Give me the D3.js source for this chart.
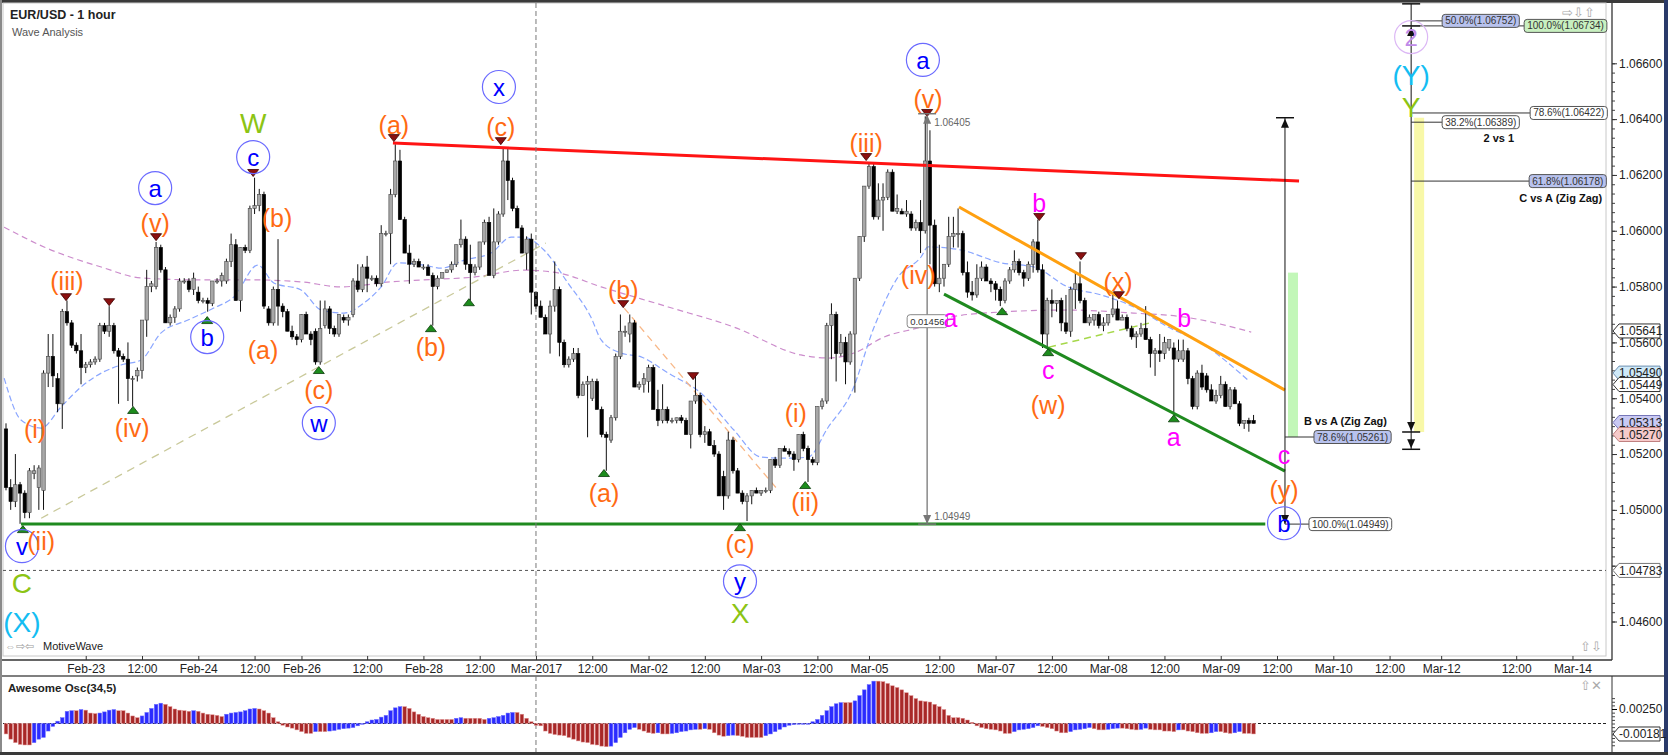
<!DOCTYPE html>
<html>
<head>
<meta charset="utf-8">
<script src="https://cdn.jsdelivr.net/npm/d3@7"></script>
<style>
html, body { margin: 0; padding: 0; background: #fff; }
svg { display: block; font-family: "Liberation Sans", Arial, sans-serif; }
</style>
</head>
<body>
<div id="chart"></div>
<script>
//=====================================================
// data (prices in pips above 1.0000, e.g. 532 -> 1.0532)

var title = "EUR/USD - 1 hour";
var subtitle = "Wave Analysis";

// hourly candles [open, high, low, close], bar 0 = Feb-22 late
var candles = [
[529,531,507,508],[508,511,500,503],[503,520,501,509],[509,510,495,506],[506,507,497,499],
[499,515,497,514],[513,516,511,514],[508,516,500,515],[507,550,500,549],[549,563,544,555],
[555,563,544,548],[547,549,535,538],[538,572,529,571],[571,575,566,567],[567,568,558,559],
[559,560,556,557],[557,563,545,551],[551,553,549,552],[552,554,551,553],[553,555,552,554],
[554,567,553,566],[566,567,563,564],[564,573,562,566],[566,567,556,557],[557,558,538,555],
[555,556,553,554],[554,560,539,547],[547,548,537,547],[548,551,546,550],[550,568,547,568],
[568,586,562,580],[580,582,578,581],[580,596,579,594],[594,595,585,586],[586,587,567,567],
[567,570,566,569],[569,573,567,572],[572,583,571,582],[582,583,581,582],[582,583,578,579],
[579,585,577,583],[578,580,574,575],[575,576,574,575],[575,576,571,574],[574,582,573,582],
[582,583,581,582],[582,585,580,584],[582,590,581,589],[589,599,587,595],[595,597,575,575],
[575,594,571,594],[594,595,592,593],[593,609,592,608],[608,619,606,609],[609,615,607,613],
[613,614,572,573],[572,573,566,567],[567,580,566,579],[579,597,566,573],[573,574,569,571],
[571,572,564,564],[564,566,561,562],[562,563,559,561],[561,570,560,570],[570,571,563,563],
[563,564,559,561],[564,565,552,553],[553,575,552,565],[566,575,565,572],[572,573,563,565],
[565,566,562,563],[563,570,562,570],[569,570,567,568],[568,570,566,569],[570,583,569,582],
[582,588,578,579],[579,588,578,587],[587,591,578,583],[583,584,582,583],[583,584,580,581],
[581,602,580,599],[599,600,598,599],[599,615,588,613],[613,631,612,625],[625,629,604,604],
[604,605,592,592],[592,595,581,588],[588,590,587,589],[589,590,587,587],[587,588,586,587],
[587,588,584,584],[584,585,566,580],[580,584,579,583],[583,585,583,585],[585,586,585,586],
[586,589,585,588],[588,595,587,595],[595,604,594,597],[597,598,586,588],[588,595,575,585],
[585,588,584,587],[587,596,586,596],[596,604,595,603],[603,605,584,584],[584,608,583,596],
[596,607,595,606],[606,630,605,625],[625,630,611,618],[618,619,607,608],[608,609,601,601],
[601,602,592,592],[592,598,586,597],[597,599,570,578],[578,578,572,573],[573,575,569,569],
[569,570,563,563],[563,575,556,573],[573,589,571,579],[579,580,555,560],[560,561,551,552],
[552,555,551,554],[554,558,553,556],[556,558,540,541],[541,546,541,545],[545,548,526,546],
[540,547,539,546],[546,547,536,536],[536,537,526,527],[527,528,514,526],[525,534,524,533],
[533,556,532,555],[555,570,554,564],[564,566,562,564],[563,570,560,567],[567,568,544,544],
[544,546,543,545],[545,549,542,547],[546,552,542,551],[551,552,536,536],[536,543,530,532],
[532,545,531,536],[536,537,531,532],[532,533,531,532],[532,533,531,533],[533,534,531,532],
[532,533,527,527],[527,539,522,539],[539,548,538,541],[541,542,526,527],[527,530,524,528],
[528,529,523,523],[523,525,519,520],[520,521,505,505],[512,514,500,505],[505,528,504,525],
[525,526,513,514],[514,515,506,506],[506,507,502,503],[503,506,496,505],[505,507,502,507],
[507,508,506,506],[506,507,505,507],[507,508,506,507],[507,518,506,518],[518,519,515,516],
[516,522,515,522],[522,523,521,521],[521,522,519,520],[520,521,514,518],[518,527,517,527],
[527,528,521,522],[522,523,510,518],[518,519,516,517],[517,537,516,537],[537,540,536,539],
[539,567,538,566],[566,574,554,570],[570,571,546,556],[556,563,555,560],[560,562,545,553],
[553,564,552,563],[563,583,542,583],[583,598,582,598],[598,616,596,616],[616,624,615,623],
[623,624,604,605],[605,617,604,611],[611,617,600,612],[612,622,611,621],[621,622,607,607],
[607,613,606,608],[607,608,606,606],[606,611,605,607],[606,607,600,601],[601,604,600,603],
[603,611,592,600],[600,641,599,625],[625,636,588,602],[602,604,580,581],[581,595,578,583],
[583,588,580,588],[588,605,587,598],[598,605,594,599],[599,608,594,599],[599,600,584,585],
[585,589,576,578],[578,582,575,577],[577,588,576,583],[583,589,582,587],[587,588,582,582],
[582,583,578,581],[581,582,575,579],[579,580,573,575],[575,583,574,582],[582,587,581,586],
[586,593,585,589],[589,590,584,585],[585,586,580,583],[583,589,582,588],[588,597,585,596],
[596,604,585,586],[586,588,558,563],[563,576,558,575],[575,579,569,574],[574,575,571,575],
[575,576,564,567],[567,577,563,564],[564,580,562,579],[579,585,572,581],[581,589,574,575],
[575,576,567,567],[567,570,566,569],[568,570,566,570],[570,571,565,566],[566,569,564,567],
[567,570,566,570],[570,577,569,572],[572,575,568,568],[568,570,568,569],[569,570,564,565],
[565,566,561,562],[562,564,558,563],[563,567,562,565],[565,573,561,561],[561,562,551,556],
[556,558,548,557],[557,563,553,556],[556,562,554,560],[558,561,557,561],[558,560,535,554],
[554,561,553,557],[554,561,553,557],[557,558,545,547],[547,548,536,537],[537,550,536,549],
[549,552,543,544],[548,549,542,543],[543,545,539,539],[539,543,538,541],[541,548,540,545],
[545,546,537,537],[537,544,536,543],[543,544,538,538],[538,539,530,531],[531,532,529,532],
[532,533,528,531],[532,534,531,531]
];

// Awesome Oscillator (34,5), one value per bar, in pips
var aoPips = [
-18,-27,-33,-36,-37,-37,-33,-27,-24,-13,
-5,4,10,21,22,22,24,23,18,17,
18,20,23,24,22,22,18,13,10,13,
19,26,33,35,33,29,25,23,22,21,
22,21,18,16,15,14,12,16,18,19,
20,22,25,26,25,22,18,10,3,-3,
-6,-8,-11,-14,-17,-17,-14,-14,-14,-13,
-12,-10,-9,-8,-7,-4,-1,3,6,7,
11,14,22,27,29,29,26,20,16,12,
10,9,7,7,7,7,9,10,9,9,
9,9,7,9,10,12,14,18,19,19,
16,9,3,-3,-4,-13,-17,-19,-20,-21,
-24,-27,-30,-32,-33,-36,-37,-39,-40,-39,
-33,-24,-16,
-10,-7,-10,-13,-16,-17,-16,-18,-18,-17,
-16,-14,-13,-11,-10,-10,-9,-10,-16,-20,
-22,-21,-20,-21,-22,-24,-24,-24,-24,-21,
-18,-14,-10,-6,-3,-2,-1,-0.5,0,3,
7,14,22,29,34,36,36,36,39,48,
58,67,73,73,72,69,65,62,58,53,
48,43,39,38,37,33,29,24,14,10,
10,9,6,2,-4,-7,-9,-10,-11,-13,
-17,-17,-14,-11,-10,-9,-7,-4,-5,-7,
-9,-13,-16,-16,-14,-11,-10,-9,-7,-9,
-11,-11,-10,-9,-8,-8,-9,-10,-11,-10,
-8,-10,-11,-11,-13,-13,-14,-11,-11,-13,
-14,-16,-17,-17,-16,-14,-14,-16,-17,-16,
-14,-17,-17,-18
];

// moving averages [bar, pips]
var maFast = [[-0.4,547.2],[3.2,532.2],[7.5,529.3],[11.7,536.8],[16,544],[20.3,549],[24.5,551.9],
  [28.8,553.7],[33,563.3],[38.8,568],[44.3,572.3],[48.6,576.3],[53.7,587.7],[57.1,581.3],
  [62.9,578.8],[67.2,571.6],[72.1,570.5],[76.3,574.1],[80,579.9],[83.6,588.5],[89.1,587.7],
  [92.8,586.6],[97.7,589.5],[103.4,592],[107.7,597.7],[110.4,597.7],[114.7,593.1],[119.8,581.3],
  [124.7,569.1],[126.9,560.9],[131.1,556.2],[135.4,554.8],[141.2,549],[148.2,541.8],
  [155.2,528.6],[161,518.9],[166.7,518.5],[171,518.9],[175.3,529.6],[180.2,541.8],[185.1,565.5],
  [190.2,583.4],[195.1,590.6],[196.6,594.2],[203.6,593.1],[212.2,588.5],[219.2,587],
  [226.4,579.9],[233.5,577],[240.5,572.7],[247.8,565.5],[254.8,559.8],[264.8,546.5]];
var maSlow = [[-0.4,601.3],[8.1,594.2],[20.3,587],[28.8,583.1],[41.6,582.4],[52.2,582.4],
  [62.9,581.7],[71.4,579.9],[82.1,581.7],[89.1,582.4],[99.8,583.4],[110.4,585.9],[117.7,584.9],
  [126.9,579.9],[141.2,572.7],[155.2,565.5],[169.5,555.5],[175.3,554.4],[180.8,556.2],
  [187.2,561.9],[195.1,565.5],[201.5,569.1],[212.2,570.9],[226.4,571.6],[240.5,570.5],
  [251.2,569.1],[265.5,563.7]];

// time axis
var timeTickBars = [17,29,41,53,63,77,89,101,113,125,137,149,161,173,184,199,211,223,235,247,259,271,283,295,306,322,334];
var timeTickLabels = ["Feb-23","12:00","Feb-24","12:00","Feb-26","12:00","Feb-28","12:00","Mar-2017","12:00",
  "Mar-02","12:00","Mar-03","12:00","Mar-05","12:00","Mar-07","12:00","Mar-08","12:00",
  "Mar-09","12:00","Mar-10","12:00","Mar-12","12:00","Mar-14"];
var monthBar = 113;

// price axis (1.04800 sits under the 1.04783 tag, so only its tick shows)
var priceTicks = [1.046,1.048,1.050,1.052,1.054,1.056,1.058,1.060,1.062,1.064,1.066];
var hiddenTickLabels = [1.048];
var tagPrices = [1.05641,1.05490,1.05449,1.05313,1.05270,1.04783];
var refLevel = 1.04783;
var aoTick = 0.0025;
var aoLast = -0.00181;

// wave labels [text, bar, pips, degree]
var waveLabels = [
["v",3.4,487,"minute"],["(ii)",7.5,488.8,"minuette"],["(i)",6.2,528.9,"minuette"],
["C",3.4,473.7,"minor"],["(X)",3.4,459.8,"intermediate"],
["(iii)",13,582,"minuette"],["(iv)",26.9,529.3,"minuette"],["a",31.8,615.3,"minute"],
["(v)",31.8,602.8,"minuette"],["b",42.9,561.9,"minute"],["c",52.7,626.4,"minute"],
["W",52.7,638.6,"minor"],["(b)",57.8,604.6,"minuette"],["(a)",54.8,557.2,"minuette"],
["(c)",66.7,542.9,"minuette"],["w",66.7,531.1,"minute"],["(a)",82.7,637.9,"minuette"],
["(b)",90.6,558.3,"minuette"],["(c)",105.5,637.2,"minuette"],["x",105.1,651.5,"minute"],
["(a)",127.5,506,"minuette"],["(b)",131.6,578.7,"minuette"],["(c)",156.5,487.7,"minuette"],
["y",156.5,474.4,"minute"],["X",156.5,463,"minor"],["(i)",168.4,534.7,"minuette"],
["(ii)",170.4,502.8,"minuette"],["(iii)",183.4,631.4,"minuette"],["(iv)",194.5,584.1,"minuette"],
["(v)",196.6,647.2,"minuette"],["a",195.5,661.2,"minute"],["a",201.4,568.7,"sub"],
["b",220.3,609.9,"sub"],["c",222.2,550.1,"sub"],["(w)",222.2,537.5,"minuette"],
["(x)",237.1,581.6,"minuette"],["b",251.2,568.7,"sub"],["a",249,526.1,"sub"],
["c",272.5,519.6,"sub"],["(y)",272.5,507.1,"minuette"],["b",272.5,495.2,"minute"],
["2",299.6,669.4,"primary"],["(Y)",299.6,655.8,"intermediate"],["Y",299.6,644.3,"minor"]
];

// swing markers [bar, pips, direction]
var swingMarks = [
[3.6,493.1,"up"],[12.8,576.2,"down"],[22,574.4,"down"],[27.1,535.8,"up"],[32,597.7,"down"],
[42.9,568,"up"],[52.7,620.7,"down"],[66.7,550.1,"up"],[82.7,633.2,"down"],[90.6,565.1,"up"],
[98.7,574.4,"up"],[105.5,632.1,"down"],[127.5,513.2,"up"],[131.6,573.7,"down"],
[146.5,547.9,"down"],[156.5,493.8,"up"],[170.4,508.9,"up"],[183.4,626.4,"down"],
[196.4,642.2,"down"],[212.4,571.2,"up"],[220.3,604.9,"down"],[222.2,556.5,"up"],
[229.2,590.9,"down"],[237.3,576.9,"down"],[249,532.8,"up"]
];

// trend lines [[bar, pips], [bar, pips]]
var resistance = [[82.5,631.4],[275.7,617.8]];
var support = [[3.2,494.9],[268.5,494.9]];
var channelTop = [[203.2,608.5],[272.7,542.9]];
var channelBottom = [[200,577.3],[272.7,513.9]];
var guideTan = [[7.5,497],[115.1,595.6]];
var guideOrange = [[131.8,572.3],[164.6,507.1]];
var guideLime = [[222.4,558.3],[243.7,566.9]];

// measurements
var measureA = {bar: 196.4, top: 1.06405, bottom: 1.04949, diff: "0.01456", mid: 1.05676};
var measureB = {bar: 272.7, top: 1.06405, bottom: 1.04949};
var measureC = {bar: 299.6, caps: [1.06813, 1.06734, 1.05279, 1.05217]};
var fibB = [["78.6%(1.05261)",1.05261],["100.0%(1.04949)",1.04949]];
var fibC = [["50.0%(1.06752)",1.06752],["100.0%(1.06734)",1.06734],["78.6%(1.06422)",1.06422],
            ["38.2%(1.06389)",1.06389],["61.8%(1.06178)",1.06178]];
var zoneGreen = [1.05261, 1.05850];
var zoneYellow = [1.05279, 1.06405];

//=====================================================
function P(v) { return 1 + v / 10000; }

var W = 1668, H = 755;
var plotR = 1606, axisX = 1612, plotB = 656, axisY = 660;
var oscTop = 676, oscBot = 752;

var x = d3.scaleLinear().domain([0, 342]).range([6, 1610]);
var y = d3.scaleLinear().domain([1.046, 1.066]).range([621.5, 63.3]);
var yo = d3.scaleLinear().domain([0, 0.0025]).range([723.5, 709]);

var svg = d3.select("#chart").append("svg")
  .attr("width", W)
  .attr("height", H);

svg.append("rect").attr("width", W).attr("height", H).attr("fill", "#fff");

var defs = svg.append("defs");
defs.append("clipPath").attr("id", "pclip")
  .append("rect").attr("x", 3).attr("y", 3).attr("width", plotR - 3).attr("height", plotB - 3);

// frame
svg.append("rect").attr("x", 0).attr("y", 0).attr("width", W).attr("height", 3).attr("fill", "#3a3a3a");
svg.append("rect").attr("x", 0).attr("y", 0).attr("width", 2).attr("height", H).attr("fill", "#8a8a8a");
svg.append("rect").attr("x", W - 4).attr("y", 0).attr("width", 4).attr("height", H).attr("fill", "#2a3a6a");
svg.append("rect").attr("x", 0).attr("y", oscBot).attr("width", W).attr("height", 3).attr("fill", "#3a3a3a");
svg.append("rect").attr("x", 3).attr("y", 3).attr("width", plotR - 3).attr("height", plotB - 3)
  .attr("fill", "none").attr("stroke", "#c8c8c8");
svg.append("line").attr("x1", 2).attr("x2", axisX).attr("y1", axisY).attr("y2", axisY)
  .attr("stroke", "#333").attr("stroke-width", 1.4);
svg.append("line").attr("x1", 2).attr("x2", W - 4).attr("y1", oscTop).attr("y2", oscTop)
  .attr("stroke", "#555").attr("stroke-width", 1.4);

var plot = svg.append("g").attr("clip-path", "url(#pclip)");

// month separator
[[3, plotB], [oscTop, oscBot]].forEach(function(s) {
  svg.append("line")
    .attr("x1", x(monthBar)).attr("x2", x(monthBar))
    .attr("y1", s[0]).attr("y2", s[1])
    .attr("stroke", "#777").attr("stroke-dasharray", "5,3");
});

// reference level
plot.append("line")
  .attr("x1", 3).attr("x2", plotR).attr("y1", y(refLevel)).attr("y2", y(refLevel))
  .attr("stroke", "#555").attr("stroke-dasharray", "3,3");

// moving averages
var maLine = d3.line()
  .x(function(d) { return x(d[0]); })
  .y(function(d) { return y(P(d[1])); })
  .curve(d3.curveMonotoneX);
plot.append("path").datum(maSlow).attr("d", maLine)
  .attr("fill", "none").attr("stroke", "#cc8ccc").attr("stroke-width", 1.2).attr("stroke-dasharray", "6,4");
plot.append("path").datum(maFast).attr("d", maLine)
  .attr("fill", "none").attr("stroke", "#8aa6ff").attr("stroke-width", 1.2).attr("stroke-dasharray", "6,3");

// guides and trend lines
var seg = d3.line()
  .x(function(d) { return x(d[0]); })
  .y(function(d) { return y(P(d[1])); });
function drawSeg(data, color, width, dash) {
  var p = plot.append("path").datum(data).attr("d", seg)
    .attr("fill", "none").attr("stroke", color).attr("stroke-width", width);
  if (dash) p.attr("stroke-dasharray", dash);
}
drawSeg(guideTan, "#c9c99a", 1.3, "8,6");
drawSeg(guideOrange, "#f8b888", 1.3, "7,5");
drawSeg(guideLime, "#a6d84a", 1.5, "7,5");

// zones
plot.append("rect")
  .attr("x", x(measureB.bar) + 3).attr("width", 10)
  .attr("y", y(zoneGreen[1])).attr("height", y(zoneGreen[0]) - y(zoneGreen[1]))
  .attr("fill", "#c2f7b8");
plot.append("rect")
  .attr("x", x(measureC.bar) + 3).attr("width", 10)
  .attr("y", y(zoneYellow[1])).attr("height", y(zoneYellow[0]) - y(zoneYellow[1]))
  .attr("fill", "#f8f8a8");

// candles
var cg = plot.append("g");
candles.forEach(function(c, i) {
  var cx = x(i);
  var up = c[3] >= c[0];
  cg.append("line")
    .attr("x1", cx).attr("x2", cx)
    .attr("y1", y(P(c[1]))).attr("y2", y(P(c[2])))
    .attr("stroke", "#111").attr("stroke-width", 1);
  var top = y(P(Math.max(c[0], c[3])));
  var bot = y(P(Math.min(c[0], c[3])));
  cg.append("rect")
    .attr("x", cx - 1.7).attr("width", 3.4)
    .attr("y", top).attr("height", Math.max(1, bot - top))
    .attr("fill", up ? "#a8a8a8" : "#000")
    .attr("stroke", up ? "#444" : "#000").attr("stroke-width", 0.6);
});

drawSeg(resistance, "#ff1414", 3);
drawSeg(support, "#1f8a1f", 3);
drawSeg(channelTop, "#ffa010", 3);
drawSeg(channelBottom, "#1f8a1f", 3);

// swing markers
swingMarks.forEach(function(m) {
  var cx = x(m[0]), cy = y(P(m[1]));
  var d = m[2] === "down"
    ? "M" + (cx - 5.5) + "," + (cy - 3.5) + "L" + (cx + 5.5) + "," + (cy - 3.5) + "L" + cx + "," + (cy + 3.5) + "Z"
    : "M" + (cx - 5.5) + "," + (cy + 3.5) + "L" + (cx + 5.5) + "," + (cy + 3.5) + "L" + cx + "," + (cy - 3.5) + "Z";
  plot.append("path").attr("d", d)
    .attr("fill", m[2] === "down" ? "#8a1010" : "#1c8c1c")
    .attr("stroke", m[2] === "down" ? "#3a0000" : "#0a3a0a").attr("stroke-width", 0.8);
});

// measurement helpers
function cap(g, cx, cy, color) {
  g.append("line").attr("x1", cx - 9).attr("x2", cx + 9).attr("y1", cy).attr("y2", cy)
    .attr("stroke", color).attr("stroke-width", 1.5);
}
function arrow(g, cx, tipY, dir, color) {
  var b = tipY + (dir === "up" ? 9 : -9);
  g.append("path")
    .attr("d", "M" + cx + "," + tipY + "L" + (cx - 4) + "," + b + "L" + (cx + 4) + "," + b + "Z")
    .attr("fill", color);
}
function labelBox(g, tx, ty, text, fill, stroke, size) {
  var bg = g.append("g");
  var t = bg.append("text").attr("x", tx + 3).attr("y", ty).attr("dy", "0.35em")
    .attr("font-size", size).attr("fill", "#333").text(text);
  var w = t.node().getComputedTextLength();
  bg.insert("rect", "text")
    .attr("x", tx).attr("y", ty - 6.5).attr("width", w + 6).attr("height", 13)
    .attr("rx", 3).attr("fill", fill).attr("stroke", stroke).attr("stroke-width", 1);
  return w + 6;
}
var fibFill = { blue: "#b8c2ee", green: "#c8f0c0", white: "#fff" };

var mg = svg.append("g");

// measure A
(function() {
  var cx = x(measureA.bar), t = y(measureA.top), b = y(measureA.bottom), col = "#777";
  mg.append("line").attr("x1", cx).attr("x2", cx).attr("y1", t).attr("y2", b)
    .attr("stroke", col).attr("stroke-width", 1.3);
  cap(mg, cx, t - 4, col);
  arrow(mg, cx, t - 3, "up", col);
  arrow(mg, cx, b, "down", col);
  cap(mg, cx, b, col);
  mg.append("text").attr("x", cx + 7).attr("y", t + 8).attr("font-size", 10).attr("fill", "#666").text(measureA.top.toFixed(5));
  mg.append("text").attr("x", cx + 7).attr("y", b - 4).attr("font-size", 10).attr("fill", "#666").text(measureA.bottom.toFixed(5));
  labelBox(mg, cx - 20, y(measureA.mid), measureA.diff, "#fff", "#888", 9.5);
})();

// measure B
(function() {
  var cx = x(measureB.bar), t = y(measureB.top), b = y(measureB.bottom), col = "#111";
  mg.append("line").attr("x1", cx).attr("x2", cx).attr("y1", t).attr("y2", b)
    .attr("stroke", col).attr("stroke-width", 1);
  cap(mg, cx, t, col);
  arrow(mg, cx, t + 1, "up", col);
  arrow(mg, cx, b, "down", col);
  var offs = [29, 24], fills = ["blue", "white"];
  fibB.forEach(function(f, i) {
    var yy = y(f[1]);
    mg.append("line").attr("x1", cx).attr("x2", cx + offs[i]).attr("y1", yy).attr("y2", yy)
      .attr("stroke", "#333");
    labelBox(mg, cx + offs[i], yy, f[0], fibFill[fills[i]], "#555", 10);
  });
  mg.append("text").attr("x", cx + 102).attr("y", y(fibB[0][1]) - 12)
    .attr("text-anchor", "end").attr("font-size", 11).attr("font-weight", "bold").attr("fill", "#111")
    .text("B vs A (Zig Zag)");
})();

// measure C
(function() {
  var cx = x(measureC.bar), col = "#111";
  var c = measureC.caps.map(function(p) { return y(p); });
  mg.append("line").attr("x1", cx).attr("x2", cx).attr("y1", c[0]).attr("y2", c[3])
    .attr("stroke", col).attr("stroke-width", 1);
  cap(mg, cx, c[0], col);
  cap(mg, cx, c[1], col);
  arrow(mg, cx, c[1] + 1, "up", col);
  arrow(mg, cx, c[2] - 1, "down", col);
  cap(mg, cx, c[2], col);
  arrow(mg, cx, c[3] - 1, "down", col);
  cap(mg, cx, c[3], col);
  var offs = [31, 113, 119, 31, 118], fills = ["blue", "green", "white", "white", "blue"];
  fibC.forEach(function(f, i) {
    var yy = y(f[1]);
    mg.append("line").attr("x1", cx).attr("x2", cx + offs[i]).attr("y1", yy).attr("y2", yy)
      .attr("stroke", "#333");
  });
  fibC.forEach(function(f, i) {
    labelBox(mg, cx + offs[i], y(f[1]), f[0], fibFill[fills[i]], "#555", 10);
  });
  mg.append("text").attr("x", cx + 103).attr("y", y(fibC[3][1]) + 20)
    .attr("text-anchor", "end").attr("font-size", 11).attr("font-weight", "bold").attr("fill", "#111")
    .text("2 vs 1");
  mg.append("text").attr("x", cx + 191).attr("y", y(fibC[4][1]) + 21)
    .attr("text-anchor", "end").attr("font-size", 11).attr("font-weight", "bold").attr("fill", "#111")
    .text("C vs A (Zig Zag)");
})();

// wave labels
var degreeStyle = {
  minuette:     { color: "#ff6a13", size: 25 },
  minute:       { color: "#0000ff", size: 24, ring: "#6b6bff" },
  minor:        { color: "#8cc414", size: 28 },
  intermediate: { color: "#14bdf2", size: 28 },
  sub:          { color: "#ff00ff", size: 25 },
  primary:      { color: "#c08ae8", size: 24, ring: "#dcb8f5" }
};
var lg = svg.append("g");
waveLabels.forEach(function(d) {
  var s = degreeStyle[d[3]];
  var lx = x(d[1]), ly = y(P(d[2]));
  if (s.ring) {
    lg.append("circle").attr("cx", lx).attr("cy", ly).attr("r", 16.5)
      .attr("fill", "none").attr("stroke", s.ring).attr("stroke-width", 1.2);
  }
  lg.append("text")
    .attr("x", lx).attr("y", ly).attr("dy", s.ring ? "0.36em" : "0.35em")
    .attr("text-anchor", "middle")
    .attr("font-size", s.size)
    .attr("fill", s.color)
    .text(d[0]);
});

// title
svg.append("text").attr("x", 10).attr("y", 19).attr("font-size", 12.5).attr("font-weight", "bold")
  .attr("fill", "#222").text(title);
svg.append("text").attr("x", 12).attr("y", 36).attr("font-size", 11).attr("fill", "#555").text(subtitle);

// time axis
var xAxis = d3.axisBottom(x)
  .tickValues(timeTickBars)
  .tickFormat(function(d, i) { return timeTickLabels[i]; })
  .tickSizeInner(-4).tickSizeOuter(0).tickPadding(4);
var xg = svg.append("g").attr("transform", "translate(0," + axisY + ")").call(xAxis);
xg.select(".domain").remove();
xg.selectAll("text").attr("font-size", 12).attr("fill", "#222").attr("font-family", "Liberation Sans, Arial");
xg.selectAll("line").attr("stroke", "#333");

// price axis
var minor = d3.range(0, 61).map(function(k) { return 1.046 + k * 0.002 / 6; });
var yMinor = d3.axisRight(y).tickValues(minor).tickSize(3).tickFormat("");
svg.append("g").attr("transform", "translate(" + axisX + ",0)").call(yMinor)
  .call(function(g) { g.select(".domain").remove(); g.selectAll("line").attr("stroke", "#444"); });
var fmt5 = d3.format(".5f");
var yAxis = d3.axisRight(y).tickValues(priceTicks)
  .tickFormat(function(d) { return hiddenTickLabels.indexOf(d) >= 0 ? "" : fmt5(d); })
  .tickSize(5).tickPadding(2);
var yg = svg.append("g").attr("transform", "translate(" + axisX + ",0)").call(yAxis);
yg.select(".domain").attr("d", "M0,3V" + axisY).attr("stroke", "#333").attr("stroke-width", 1.3);
yg.selectAll("text").attr("font-size", 12).attr("fill", "#222").attr("font-family", "Liberation Sans, Arial");
yg.selectAll("line").attr("stroke", "#333");

// price tags
var tagFill = ["#fff", "#cfe9f8", "#fff", "#c9c9f3", "#f6caca", "#fff"];
var tagStroke = ["#333", "#6d8fb0", "#333", "#7676b8", "#c08080", "#777"];
function tag(yy, text, fill, stroke) {
  var g = svg.append("g");
  g.append("path")
    .attr("d", "M" + (axisX + 1) + "," + yy + "L" + (axisX + 7) + "," + (yy - 7) + "H" + (W - 8) + "V" + (yy + 7) + "H" + (axisX + 7) + "Z")
    .attr("fill", fill).attr("stroke", stroke).attr("stroke-width", 1);
  g.append("text").attr("x", axisX + 7).attr("y", yy).attr("dy", "0.36em")
    .attr("font-size", 12).attr("fill", "#222").text(text);
}
tagPrices.forEach(function(p, i) { tag(y(p), p.toFixed(5), tagFill[i], tagStroke[i]); });

// oscillator
svg.append("text").attr("x", 8).attr("y", 692).attr("font-size", 11.5).attr("font-weight", "bold")
  .attr("fill", "#222").text("Awesome Osc(34,5)");
svg.append("line").attr("x1", 3).attr("x2", plotR).attr("y1", yo(0)).attr("y2", yo(0))
  .attr("stroke", "#222").attr("stroke-dasharray", "3,2");
var og = svg.append("g");
aoPips.forEach(function(v, i) {
  var val = v / 10000;
  var rising = i > 0 && v > aoPips[i - 1];
  var y0 = yo(0), y1 = yo(val);
  og.append("rect")
    .attr("x", x(i) - 1.8).attr("width", 3.6)
    .attr("y", Math.min(y0, y1)).attr("height", Math.max(0.8, Math.abs(y1 - y0)))
    .attr("fill", rising ? "#2b2bff" : "#a82828")
    .attr("stroke", rising ? "#6a6aff" : "#e09090").attr("stroke-width", 0.5);
});
var oMinor = d3.range(-6, 8).map(function(k) { return k * 0.000625; });
svg.append("g").attr("transform", "translate(" + axisX + ",0)")
  .call(d3.axisRight(yo).tickValues(oMinor).tickSize(3).tickFormat(""))
  .call(function(g) { g.select(".domain").attr("d", "M0," + oscTop + "V" + oscBot).attr("stroke", "#333"); g.selectAll("line").attr("stroke", "#444"); });
var oa = svg.append("g").attr("transform", "translate(" + axisX + ",0)")
  .call(d3.axisRight(yo).tickValues([aoTick]).tickFormat(d3.format(".5f")).tickSize(5).tickPadding(2));
oa.select(".domain").remove();
oa.selectAll("text").attr("font-size", 12).attr("fill", "#222").attr("font-family", "Liberation Sans, Arial");
tag(yo(aoLast), aoLast.toFixed(5), "#fff", "#333");

// icons
svg.append("text").attr("x", 5).attr("y", 650).attr("font-size", 11).attr("fill", "#999").text("\u21D4\u21E8\u21E6");
svg.append("text").attr("x", 43).attr("y", 650).attr("font-size", 11).attr("fill", "#222").text("MotiveWave");
svg.append("text").attr("x", 1562).attr("y", 17).attr("font-size", 13).attr("fill", "#aaa").text("\u21E8\u21E9\u21E7");
svg.append("text").attr("x", 1580).attr("y", 651).attr("font-size", 13).attr("fill", "#aaa").text("\u21E7\u21E9");
svg.append("text").attr("x", 1580).attr("y", 690).attr("font-size", 13).attr("fill", "#aaa").text("\u21E7\u2715");
</script>
</body>
</html>
